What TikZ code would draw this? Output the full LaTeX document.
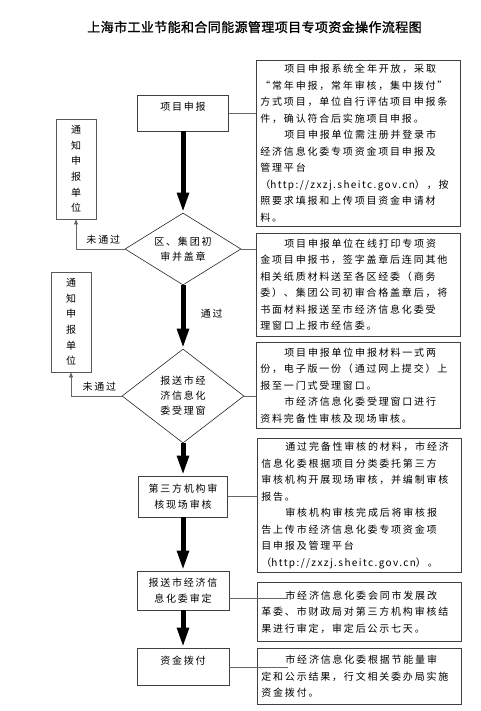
\documentclass[tikz,border=0pt]{standalone}
\usepackage{fontspec}
\setmainfont{Noto Sans CJK SC}[LetterSpace=18]
\newfontfamily\titlefont{Noto Sans CJK SC}[LetterSpace=3,FakeBold=1.2]
\newfontfamily\webfont{Noto Sans CJK SC}[LetterSpace=14]
\usepackage{tikz}
\usetikzlibrary{shapes.geometric,arrows.meta}
\newcommand{\ind}{\hspace*{24pt}}
\newcommand{\site}{{\webfont http://zxzj.sheitc.gov.cn}}
\tikzset{
  stepnode/.style={draw=black!75, line width=0.8pt, align=center, inner sep=2pt,
    font=\fontsize{10}{16.5}\selectfont},
  decide/.style={diamond, draw=black!85, line width=0.6pt, align=center, inner sep=0pt,
    font=\fontsize{10}{15}\selectfont},
  notice/.style={draw=black!65, line width=0.8pt, align=center, inner sep=2pt,
    minimum width=40pt, minimum height=100pt, font=\fontsize{10}{15.7}\selectfont},
  textbox/.style={draw=black!75, line width=0.8pt, align=left, anchor=north west,
    inner sep=4pt, text width=196pt, font=\fontsize{10}{16.5}\selectfont},
  bigarrow/.style={line width=5pt, -{Triangle[width=11pt,length=20pt]}},
  link/.style={draw=black!60, line width=0.6pt},
  backarrow/.style={link, -{Triangle[width=4pt,length=5pt]}},
}
\begin{document}
\begin{tikzpicture}[x=1pt,y=-1pt]
\useasboundingbox (0,0) rectangle (481,711);
\node[font=\titlefont\fontsize{13}{15}\selectfont] (title) at (254.5,27)
  {上海市工业节能和合同能源管理项目专项资金操作流程图};

% main column
\node[stepnode, minimum width=91pt, minimum height=36pt, text depth=13pt] (apply) at (183,113) {项目申报};
\node[decide, minimum width=116pt, minimum height=72pt, aspect=1.6] (check) at (183,249) {区、集团初\\审并盖章};
\node[decide, minimum width=122pt, minimum height=94pt, aspect=1.3] (accept) at (183,396) {报送市经\\济信息化\\委受理窗};
\node[stepnode, minimum width=89pt, minimum height=41pt] (audit) at (183,496.5) {第三方机构审\\核现场审核};
\node[stepnode, minimum width=92pt, minimum height=39pt] (approve) at (183,590.5) {报送市经济信\\息化委审定};
\node[stepnode, minimum width=92pt, minimum height=37pt, text depth=13pt] (fund) at (183,666.5) {资金拨付};

% return boxes
\node[notice] (notify1) at (76,169) {通\\知\\申\\报\\单\\位};
\node[notice] (notify2) at (71,322) {通\\知\\申\\报\\单\\位};

% notes on the right
\node[textbox, minimum height=164pt] (note1) at (256,60) {%
\ind 项目申报系统全年开放，采取\\
“常年申报，常年审核，集中拨付”\\
方式项目，单位自行评估项目申报条\\
件，确认符合后实施项目申报。\\
\ind 项目申报单位需注册并登录市\\
经济信息化委专项资金项目申报及\\
管理平台\\
（\site），按\\
照要求填报和上传项目资金申请材\\
料。};
\node[textbox, minimum height=103pt] (note2) at (256,233) {%
\ind 项目申报单位在线打印专项资\\
金项目申报书，签字盖章后连同其他\\
相关纸质材料送至各区经委（商务\\
委）、集团公司初审合格盖章后，将\\
书面材料报送至市经济信息化委受\\
理窗口上报市经信委。};
\node[textbox, minimum height=86pt] (note3) at (256,342) {%
\ind 项目申报单位申报材料一式两\\
份，电子版一份（通过网上提交）上\\
报至一门式受理窗口。\\
\ind 市经济信息化委受理窗口进行\\
资料完备性审核及现场审核。};
\node[textbox, minimum height=134pt] (note4) at (257,438) {%
\ind 通过完备性审核的材料，市经济\\
信息化委根据项目分类委托第三方\\
审核机构开展现场审核，并编制审核\\
报告。\\
\ind 审核机构审核完成后将审核报\\
告上传市经济信息化委专项资金项\\
目申报及管理平台\\
（\site）。};
\node[textbox, minimum height=59pt] (note5) at (257,582) {%
\ind 市经济信息化委会同市发展改\\
革委、市财政局对第三方机构审核结\\
果进行审定，审定后公示七天。};
\node[textbox, minimum height=56pt] (note6) at (257,648) {%
\ind 市经济信息化委根据节能量审\\
定和公示结果，行文相关委办局实施\\
资金拨付。};
\coordinate (lead5) at (288,598);
\coordinate (lead6) at (288,667);

% flow
\draw[bigarrow] (apply) -- (check);
\draw[bigarrow] (check) -- node[pos=0.45, right=12pt, font=\fontsize{10}{12}\selectfont] (pass) {通过} (accept);
\draw[bigarrow] (accept) -- (audit);
\draw[bigarrow] (audit) -- (approve);
\draw[bigarrow] (approve) -- (fund);

\draw[backarrow] (check.west) -| node[pos=0.22, above=1pt, font=\fontsize{10}{12}\selectfont] (fail1) {未通过} (notify1.south);
\draw[backarrow] (accept.west) -| node[pos=0.22, above=1pt, font=\fontsize{10}{12}\selectfont] (fail2) {未通过} (notify2.south);

\draw[link] (apply.east) -- (apply.east -| note1.west);
\draw[link] (check.east) -- (check.east -| note2.west);
\draw[link] (accept.east) -- (accept.east -| note3.west);
\draw[link] (audit.east) -- (audit.east -| note4.west);
\draw[link] (approve.east |- lead5) -- (lead5);
\draw[link] (fund.east |- lead6) -- (lead6);
\end{tikzpicture}
\end{document}
